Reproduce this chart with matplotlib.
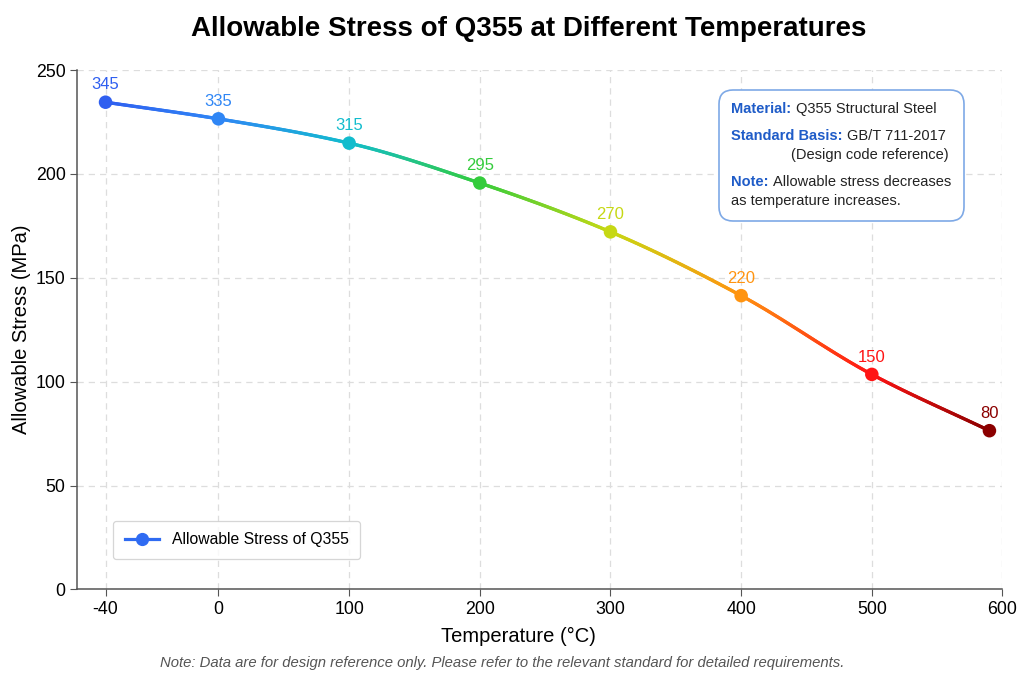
import numpy as np
import matplotlib
matplotlib.use("Agg")
import matplotlib.pyplot as plt
from matplotlib.collections import LineCollection
from matplotlib.colors import LinearSegmentedColormap
from matplotlib.lines import Line2D
from matplotlib.offsetbox import TextArea, HPacker, VPacker, AnchoredOffsetbox, DrawingArea

# data
temps = [-40, 0, 100, 200, 300, 400, 500, 590]
plot_stress = [234.5, 226.5, 214.8, 195.6, 172.1, 141.4, 103.5, 76.4]
label_stress = [345, 335, 315, 295, 270, 220, 150, 80]
point_colors = ["#2f5ff0", "#2f86f5", "#12bccd", "#34cc3c",
                "#c6d814", "#ff9410", "#ff1414", "#8b0000"]
x_ticks = [-40, 0, 100, 200, 300, 400, 500, 600]
y_ticks = [0, 50, 100, 150, 200, 250]

NEG_STRETCH = 2.16  # the sub-zero part of the axis is drawn wider


def fwd(t):
    t = np.asarray(t, float)
    return np.where(t < 0, t * NEG_STRETCH, t)


def inv(u):
    u = np.asarray(u, float)
    return np.where(u < 0, u / NEG_STRETCH, u)


def pchip(x, y, xs):
    """Monotone cubic curve through the points (for a smooth line)."""
    x = np.asarray(x, float)
    y = np.asarray(y, float)
    h = np.diff(x)
    d = np.diff(y) / h
    m = np.zeros_like(y)
    m[0], m[-1] = d[0], d[-1]
    for k in range(1, len(y) - 1):
        if d[k - 1] * d[k] > 0:
            w1 = 2 * h[k] + h[k - 1]
            w2 = h[k] + 2 * h[k - 1]
            m[k] = (w1 + w2) / (w1 / d[k - 1] + w2 / d[k])
    i = np.clip(np.searchsorted(x, xs) - 1, 0, len(h) - 1)
    s = (xs - x[i]) / h[i]
    h00 = 2 * s**3 - 3 * s**2 + 1
    h10 = s**3 - 2 * s**2 + s
    h01 = -2 * s**3 + 3 * s**2
    h11 = s**3 - s**2
    return h00 * y[i] + h10 * h[i] * m[i] + h01 * y[i + 1] + h11 * h[i] * m[i + 1]


plt.rcParams['font.family'] = ['Liberation Sans', 'DejaVu Sans']

fig = plt.figure(figsize=(10.24, 6.83), dpi=100)
ax = fig.add_axes([0.0755, 0.137, 0.9035, 0.7605])
ax.set_xscale('function', functions=(fwd, inv))

# colour map running along the curve
u_pts = fwd(temps)
pos = (u_pts - u_pts[0]) / (u_pts[-1] - u_pts[0])
cmap = LinearSegmentedColormap.from_list("temp", list(zip(pos, point_colors)))

u_fine = np.linspace(u_pts[0], u_pts[-1], 600)
y_fine = pchip(u_pts, plot_stress, u_fine)
t_fine = inv(u_fine)
pts = np.column_stack([t_fine, y_fine]).reshape(-1, 1, 2)
segs = np.concatenate([pts[:-1], pts[1:]], axis=1)
mid = (u_fine[:-1] + u_fine[1:]) / 2
seg_cols = cmap((mid - u_pts[0]) / (u_pts[-1] - u_pts[0]))
lc = LineCollection(segs, colors=seg_cols, linewidth=2.4, capstyle='round', zorder=3)
ax.add_collection(lc)

ax.scatter(temps, plot_stress, s=95, c=point_colors, zorder=4, edgecolors='none')
for t, y, lab, col in zip(temps, plot_stress, label_stress, point_colors):
    ax.annotate(str(lab), (t, y), xytext=(0, 7), textcoords='offset points',
                ha='center', va='bottom', fontsize=12, color=col)

ax.set_xlim(-50, 600)
ax.set_ylim(0, 250)
ax.set_xticks(x_ticks)
ax.set_xticklabels([str(v) for v in x_ticks])
ax.set_yticks(y_ticks)
ax.tick_params(labelsize=12.8, length=5, color='#555555')
ax.grid(True, linestyle=(0, (5, 4)), color='#dddddd', linewidth=0.9)
ax.set_axisbelow(True)
for side in ['top', 'right']:
    ax.spines[side].set_visible(False)
for side in ['left', 'bottom']:
    ax.spines[side].set_color('#555555')
    ax.spines[side].set_linewidth(1.1)

ax.set_xlabel('Temperature (°C)', fontsize=14.5, labelpad=10)
ax.xaxis.set_label_coords(0.477, -0.072)
ax.set_ylabel('Allowable Stress (MPa)', fontsize=14.5, labelpad=3)
fig.text(0.516, 0.957, 'Allowable Stress of Q355 at Different Temperatures',
         ha='center', va='center', fontsize=20, fontweight='bold')

# legend
handle = Line2D([], [], color='#2f6bf2', linewidth=2.3, marker='o', markersize=8.5)
leg = ax.legend([handle], ['Allowable Stress of Q355'], loc='lower left',
                bbox_to_anchor=(0.03, 0.043), fontsize=11.3, frameon=True,
                fancybox=True, edgecolor='#cccccc', borderpad=0.75,
                handlelength=2.2)
leg.get_frame().set_linewidth(0.9)

# info box
lab_kw = dict(color='#1f5cc8', fontsize=10.5, fontweight='semibold')
txt_kw = dict(color='#222222', fontsize=10.5)


def row(*parts):
    return HPacker(children=list(parts), align='baseline', pad=0, sep=3)


line1 = row(TextArea('Material:', textprops=lab_kw), TextArea('Q355 Structural Steel', textprops=txt_kw))
line2 = row(TextArea('Standard Basis:', textprops=lab_kw), TextArea('GB/T 711-2017', textprops=txt_kw))
line3 = row(DrawingArea(40, 1), TextArea('(Design code reference)', textprops=txt_kw))
line4 = row(TextArea('Note:', textprops=lab_kw), TextArea('Allowable stress decreases', textprops=txt_kw))
line5 = TextArea('as temperature increases.', textprops=txt_kw)
block = VPacker(children=[line1,
                          VPacker(children=[line2, line3], pad=0, sep=4, align='left'),
                          VPacker(children=[line4, line5], pad=0, sep=4, align='left')],
                pad=0, sep=9, align='left')
box = AnchoredOffsetbox(loc='upper right', child=block, pad=0.9, borderpad=0,
                        bbox_to_anchor=(0.958, 0.962), bbox_transform=ax.transAxes,
                        frameon=True)
box.patch.set_boxstyle('round,pad=0,rounding_size=1.0')
box.patch.set_edgecolor('#7ea9e6')
box.patch.set_linewidth(1.2)
box.patch.set_facecolor('white')
box.zorder = 5
ax.add_artist(box)

fig.text(0.49, 0.03, 'Note: Data are for design reference only. Please refer to the relevant standard for detailed requirements.',
         ha='center', va='center', fontsize=10.7, style='italic', color='#555555')

fig.savefig('out.png', dpi=100)
